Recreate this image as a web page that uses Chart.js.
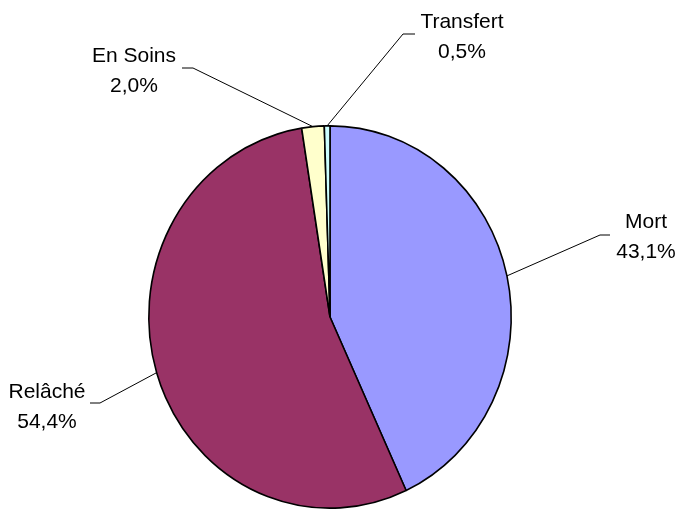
<!DOCTYPE html>
<html>
<head>
<meta charset="utf-8">
<script src="https://cdn.jsdelivr.net/npm/chart.js@4"></script>
<style>
  html, body { margin: 0; padding: 0; background: #fff; }
  canvas { display: block; }
</style>
</head>
<body>
<canvas id="c" width="678" height="511"></canvas>
<script>
const categories = ['Mort', 'Relâché', 'En Soins', 'Transfert'];
const values = [43.1, 54.4, 2.0, 0.5];
const sliceColors = ['#9999FF', '#993366', '#FFFFCC', '#CCFFFF'];

// label placement: elbow of leader line, end of horizontal tick, text centre/baseline
const labelLayout = [
  { elbow: [600, 235], end: [610, 235], tx: 646, ty: 228 },
  { elbow: [100, 403], end: [90, 403], tx: 47, ty: 398 },
  { elbow: [193, 68], end: [182, 68], tx: 134, ty: 62 },
  { elbow: [403, 34], end: [415, 34], tx: 462, ty: 28 }
];
const verticalStretch = 191.5 / 181.5;
const fontSpec = '21px "Liberation Sans", Arial, sans-serif';
const lineGap = 29.5;

function fmt(v) { return v.toFixed(1).replace('.', ',') + '%'; }

const stretchPlugin = {
  id: 'stretch',
  beforeDatasetsDraw(chart) {
    const a = chart.getDatasetMeta(0).data[0];
    const ctx = chart.ctx;
    ctx.save();
    ctx.translate(a.x, a.y);
    ctx.scale(1, verticalStretch);
    ctx.translate(-a.x, -a.y);
  },
  afterDatasetsDraw(chart) {
    chart.ctx.restore();
  }
};

const labelPlugin = {
  id: 'pieLabels',
  afterDraw(chart) {
    const ctx = chart.ctx;
    const meta = chart.getDatasetMeta(0);
    ctx.save();
    meta.data.forEach((arc, i) => {
      const p = arc.getProps(['x', 'y', 'startAngle', 'endAngle', 'outerRadius'], true);
      const mid = (p.startAngle + p.endAngle) / 2;
      const sx = p.x + Math.cos(mid) * p.outerRadius;
      const sy = p.y + Math.sin(mid) * p.outerRadius * verticalStretch;
      const L = labelLayout[i];
      ctx.strokeStyle = '#000';
      ctx.lineWidth = 1;
      ctx.beginPath();
      ctx.moveTo(sx, sy);
      ctx.lineTo(L.elbow[0], L.elbow[1]);
      ctx.lineTo(L.end[0], L.end[1]);
      ctx.stroke();
      ctx.fillStyle = '#000';
      ctx.font = fontSpec;
      ctx.textAlign = 'center';
      ctx.textBaseline = 'alphabetic';
      ctx.fillText(categories[i], L.tx, L.ty);
      ctx.fillText(fmt(values[i]), L.tx, L.ty + lineGap);
    });
    ctx.restore();
  }
};

new Chart(document.getElementById('c'), {
  type: 'pie',
  data: {
    labels: categories,
    datasets: [{
      data: values,
      backgroundColor: sliceColors,
      borderColor: '#000',
      borderWidth: 1.6,
      clip: false
    }]
  },
  options: {
    responsive: false,
    animation: false,
    layout: { padding: { left: 148, right: 166, top: 135, bottom: 12 } },
    plugins: {
      legend: { display: false },
      tooltip: { enabled: false }
    }
  },
  plugins: [stretchPlugin, labelPlugin]
});
</script>
</body>
</html>
